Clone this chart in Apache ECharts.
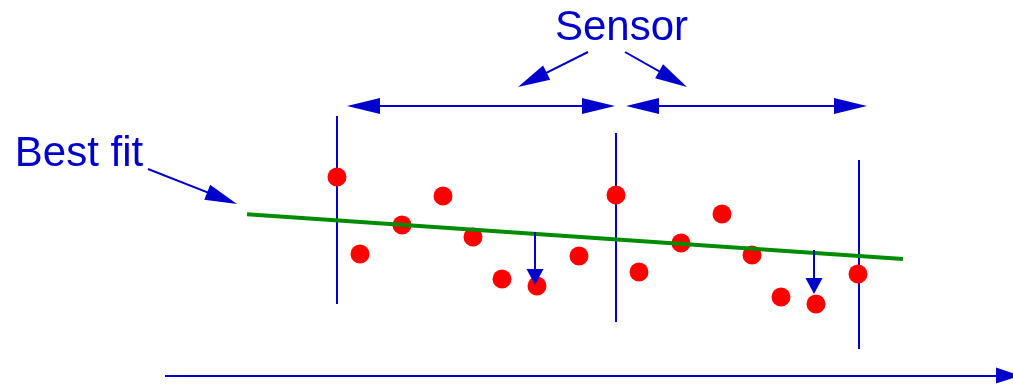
<!DOCTYPE html>
<html><head><meta charset="utf-8">
<script src="https://cdn.jsdelivr.net/npm/echarts@6/dist/echarts.min.js"></script>
<style>html,body{margin:0;padding:0;background:#fff}#c{width:1013px;height:385px}</style>
</head><body><div id="c"></div>
<script>
// Measurements (position along x, signal value on y)
const dotX = [33.7, 36.0, 40.2, 44.3, 47.3, 50.2, 53.7, 57.9, 61.6, 63.9, 68.1, 72.2, 75.2, 78.1, 81.6, 85.8];
const dotY = [20.8, 13.1, 16.0, 18.9, 14.8, 10.6, 9.9, 12.9, 19.0, 11.3, 14.2, 17.1, 13.0, 8.8, 8.1, 11.1];
// Best fit line
const fitX = [24.7, 90.3];
const fitY = [17.07, 12.6];
// Sensor boundaries
const sensorX = [33.7, 61.6, 85.9];
const sensorTop = [26.9, 25.2, 22.5];
const sensorBottom = [8.1, 6.3, 3.6];
// Sensor span arrows
const spanY = 27.9;
const spanStart = [34.7, 62.6];
const spanEnd = [61.5, 86.7];
// Residual arrows
const residX = [53.5, 81.4];
const residFrom = [15.3, 13.5];
const residTo = [10.0, 9.1];
// Labels
const labelText = ['Sensor', 'Best fit'];
const labelX = [62.15, 7.9];
const labelY = [35.66, 23.06];
// Pointer arrows from labels
const pointerFrom = [[58.8, 33.3], [62.5, 33.3], [14.8, 21.6]];
const pointerTo = [[51.8, 29.8], [68.7, 29.8], [23.7, 18.1]];
// Horizontal axis arrow
const axisFrom = [16.5, 0.94];
const axisTo = [102.0, 0.94];

const BLUE = '#0000cc';
const FONT = '"Liberation Sans", Arial, sans-serif';

const chart = echarts.init(document.getElementById('c'), null, { renderer: 'canvas' });
chart.setOption({
  backgroundColor: '#ffffff',
  animation: false,
  grid: { left: 0, right: 0, top: 0, bottom: 0 },
  xAxis: { type: 'value', min: 0, max: 101.3, show: false },
  yAxis: { type: 'value', min: 0, max: 38.5, show: false },
  series: []
});

// Shift an arrow end back by half the head length so the head's tip lands on the data point
function pullBack(pt, other, half) {
  const p = chart.convertToPixel({ gridIndex: 0 }, pt);
  const o = chart.convertToPixel({ gridIndex: 0 }, other);
  const dx = p[0] - o[0], dy = p[1] - o[1];
  const len = Math.hypot(dx, dy) || 1;
  return chart.convertFromPixel({ gridIndex: 0 }, [p[0] - dx / len * half, p[1] - dy / len * half]);
}

function arrowSeries(coordsList, headLen, headW, both) {
  const data = coordsList.map(([a, b]) => {
    const end = pullBack(b, a, headLen / 2);
    const start = both ? pullBack(a, b, headLen / 2) : a;
    return { coords: [start, end] };
  });
  return {
    type: 'lines', coordinateSystem: 'cartesian2d', silent: true, z: 4,
    symbol: both ? ['triangle', 'triangle'] : ['none', 'triangle'],
    symbolSize: [[headW, headLen], [headW, headLen]],
    lineStyle: { color: BLUE, width: 2, opacity: 1, curveness: 0 },
    itemStyle: { color: BLUE },
    data: data
  };
}

const spanCoords = spanStart.map((s, i) => [[s, spanY], [spanEnd[i], spanY]]);
const pointerCoords = pointerFrom.map((p, i) => [p, pointerTo[i]]);
const residCoords = residX.map((x, i) => [[x, residFrom[i]], [x, residTo[i]]]);
const axisCoords = [[axisFrom, axisTo]];

chart.setOption({
  series: [
    {
      type: 'lines', coordinateSystem: 'cartesian2d', silent: true, z: 1,
      symbol: ['none', 'none'],
      lineStyle: { color: BLUE, width: 2, opacity: 1 },
      data: sensorX.map((x, i) => ({ coords: [[x, sensorTop[i]], [x, sensorBottom[i]]] }))
    },
    {
      type: 'scatter', silent: true, z: 2, symbolSize: 19,
      itemStyle: { color: '#ff0000', opacity: 1 },
      data: dotX.map((x, i) => [x, dotY[i]])
    },
    {
      type: 'line', silent: true, z: 3, symbol: 'none',
      lineStyle: { color: '#008c00', width: 4 },
      data: fitX.map((x, i) => [x, fitY[i]])
    },
    arrowSeries(spanCoords, 33, 16, true),
    arrowSeries(pointerCoords, 32, 16, false),
    arrowSeries(residCoords, 16, 17, false),
    arrowSeries(axisCoords, 24, 16, false),
    {
      type: 'scatter', silent: true, z: 5, symbolSize: 0,
      itemStyle: { color: BLUE, opacity: 1 },
      label: {
        show: true, position: 'inside', color: BLUE, opacity: 1, fontSize: 42, fontFamily: FONT,
        formatter: p => labelText[p.dataIndex]
      },
      data: labelX.map((x, i) => [x, labelY[i]])
    }
  ]
});
</script></body></html>
